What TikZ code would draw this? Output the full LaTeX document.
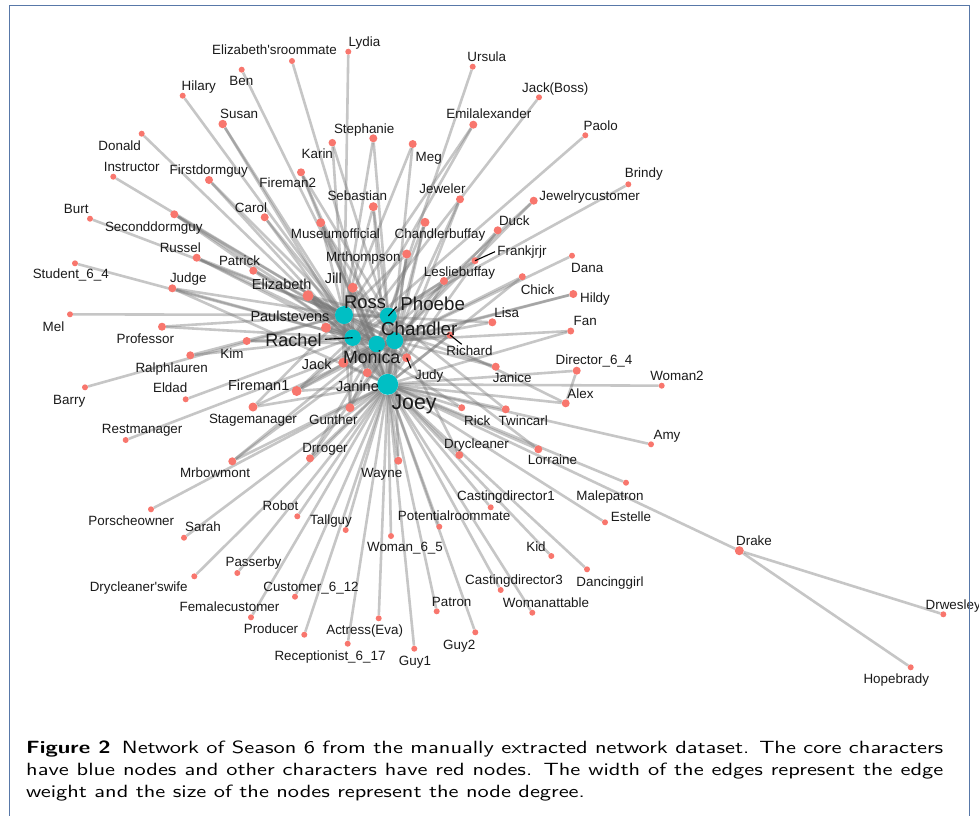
\documentclass[tikz,border=0pt]{standalone}
\usepackage{fontspec}
\usepackage{graphicx}
\newfontfamily\labfont{Liberation Sans}[Ligatures=TeXOff]
\newfontfamily\capsans{lmsans10-regular.otf}[BoldFont=lmsans10-bold.otf]
\definecolor{nodered}{RGB}{248,118,109}
\definecolor{corecol}{RGB}{0,191,196}
\definecolor{framecol}{RGB}{88,120,168}
\definecolor{labcol}{RGB}{26,26,26}
\definecolor{edgecol}{RGB}{120,120,120}
\pgfdeclarelayer{bg}
\pgfdeclarelayer{edgelayer}
\pgfsetlayers{bg,edgelayer,main}
\newlength\capw
\newsavebox\capbox
\newcommand\pn[7]{\node[rn=#4] (#1) at (#2,#3) {}; \node[lab] (l-#1) at (#5,#6) {#7};}
\newcommand\pnm[7]{\node[rn=#4] (#1) at (#2,#3) {}; \node[labm] (l-#1) at (#5,#6) {#7};}
\newcommand\capfont{\capsans\fontsize{17.7}{22.3}\selectfont}
\begin{document}
\settowidth\capw{\capfont\textbf{Figure 2}\hspace{0.5em}Network of Season 6 from the manually extracted network dataset. The core characters}%
\sbox\capbox{\parbox[t]{\capw}{\capfont\textbf{Figure 2}\hspace{0.5em}Network of Season 6 from the manually extracted network dataset. The core characters\linebreak have blue nodes and other characters have red nodes. The width of the edges represent the edge\linebreak weight and the size of the nodes represent the node degree.}}%
\begin{tikzpicture}[x=1pt,y=-1pt,
  rn/.style={circle,fill=nodered,inner sep=0pt,minimum size=#1},
  cn/.style={circle,fill=corecol,inner sep=0pt,minimum size=#1},
  lab/.style={font=\labfont\fontsize{13.4}{14}\selectfont,text=labcol,inner sep=0pt,text height=9.6pt,text depth=0pt},
  labm/.style={font=\labfont\fontsize{14.5}{15}\selectfont,text=labcol,inner sep=0pt,text height=10.4pt,text depth=0pt},
  edge/.style={draw=edgecol,draw opacity=0.42,line width=2.6pt},
  coreedge/.style={draw=edgecol,draw opacity=0.45,line width=3.6pt},
  leader/.style={draw=black,line width=1.1pt}]
\useasboundingbox (0,0) rectangle (979,815);
\begin{pgfonlayer}{bg}
\fill[white] (0,0) rectangle (979,815);
\end{pgfonlayer}
% core nodes
\node[cn=18] (ro) at (344,315) {};
\node[cn=17] (ph) at (388.3,316) {};
\node[cn=16.5] (ra) at (352.7,337.7) {};
\node[cn=16.5] (mo) at (376.7,344) {};
\node[cn=17] (ch) at (394.7,340.7) {};
\node[cn=21] (jo) at (387.7,384.3) {};
% peripheral nodes
\pn{ezr}{292}{61}{6}{274.5}{50}{Elizabeth'sroommate}
\pn{ben}{241.7}{69.7}{6}{241.3}{80.7}{Ben}
\pn{hil}{182.7}{95.7}{6}{198.8}{86}{Hilary}
\pn{sus}{222.7}{124}{8.5}{239.2}{113.7}{Susan}
\pn{don}{141.7}{133.7}{6}{119.7}{145.7}{Donald}
\pn{ins}{113.3}{176.7}{6}{131.7}{166.7}{Instructor}
\pn{fdg}{209}{180}{8}{208.8}{169.3}{Firstdormguy}
\pn{kar}{332.3}{142.7}{7.5}{317.3}{154}{Karin}
\pn{fm2}{301}{172.3}{8}{287.7}{183}{Fireman2}
\pn{car}{264.7}{217.3}{8}{251}{207.3}{Carol}
\pn{bur}{90}{218.7}{6}{76.2}{208.7}{Burt}
\pn{sdg}{174.3}{214.3}{8}{153.8}{226.7}{Seconddormguy}
\pn{muo}{320.7}{222.7}{9}{335.4}{233.3}{Museumofficial}
\pn{rus}{196.7}{257.7}{8}{180.3}{247.3}{Russel}
\pn{pat}{253.3}{270.7}{8}{239.5}{261}{Patrick}
\pn{stu}{75}{263.3}{6}{70.8}{273.7}{Student\_6\_4}
\pn{jdg}{172.3}{288.3}{8}{188.3}{277.3}{Judge}
\pnm{eli}{308}{295.7}{11}{281.7}{284.3}{Elizabeth}
\pn{mel}{70}{314.3}{6}{53.5}{326.7}{Mel}
\pnm{pau}{326}{327.7}{10}{290}{316.7}{Paulstevens}
\pn{pro}{162}{326.7}{8}{145.3}{338.3}{Professor}
\pn{kim}{246.7}{341}{8}{232}{353.3}{Kim}
\pn{ral}{190.3}{355.3}{8}{171.7}{367.3}{Ralphlauren}
\pn{bar}{85}{387.3}{6}{69.2}{399.3}{Barry}
\pn{eld}{185.7}{399.3}{6}{170.2}{388}{Eldad}
\pnm{fm1}{296.7}{391}{10}{258.7}{385}{Fireman1}
\pn{stg}{253}{407}{9}{253}{418.3}{Stagemanager}
\pn{rst}{125.7}{440}{6}{142.2}{428.3}{Restmanager}
\pn{mrb}{232.3}{461.3}{8}{215}{472.3}{Mrbowmont}
\pn{drr}{310}{458.3}{8}{325}{447.7}{Drroger}
\pn{por}{151}{509.3}{6}{131.3}{520.7}{Porscheowner}
\pn{sar}{184}{537.7}{6}{203}{526.3}{Sarah}
\pn{dcw}{194.3}{576.3}{6}{138.7}{586.3}{Drycleaner'swife}
\pn{rob}{297.3}{516.3}{6}{280.5}{505.3}{Robot}
\pn{pas}{237.3}{573}{6}{253.5}{561.7}{Passerby}
\pn{fcu}{251}{617.3}{6}{229.5}{606.3}{Femalecustomer}
\pn{cus}{295}{596.7}{6}{311}{587}{Customer\_6\_12}
\pn{prd}{304.3}{634.7}{6}{271}{628.3}{Producer}
\pn{tal}{345.7}{530}{6}{331}{519.3}{Tallguy}
\pn{rec}{347.7}{643.7}{6}{330}{656}{Receptionist\_6\_17}
\pn{act}{378.7}{618.3}{6}{364.7}{630}{Actress(Eva)}
\pn{w65}{391}{536}{6}{405}{546.7}{Woman\_6\_5}
\pn{gua}{414.3}{648.7}{6}{415}{660.7}{Guy1}
\pn{ptr}{436.7}{611.3}{6}{451.7}{601.7}{Patron}
\pn{gub}{475.3}{632.3}{6}{459.2}{644.3}{Guy2}
\pn{prm}{439.3}{526.7}{6}{454.2}{515.3}{Potentialroommate}
\pn{cdc}{500.7}{590}{6}{514}{579.3}{Castingdirector3}
\pn{wat}{532.3}{612.7}{6}{546}{602.3}{Womanattable}
\pn{cda}{490.7}{507.3}{6}{506}{495.7}{Castingdirector1}
\pn{kid}{551.3}{556}{6}{536}{546.7}{Kid}
\pn{dgl}{587}{569.3}{6}{610}{581.7}{Dancinggirl}
\pn{est}{605}{522.3}{6}{631}{516.7}{Estelle}
\pn{mpt}{626}{482.7}{6}{610}{495.7}{Malepatron}
\pn{drk}{739.3}{550.7}{9}{754}{540.7}{Drake}
\pn{drw}{943.3}{614.3}{6}{953.2}{604.3}{Drwesley}
\pn{hop}{910.7}{667.3}{6}{896.3}{678.7}{Hopebrady}
\pn{way}{398.3}{460.7}{8}{381.7}{473}{Wayne}
\pn{gun}{350}{407.7}{9}{333.3}{420}{Gunther}
\pn{dcl}{459.3}{455}{8}{476.5}{443.3}{Drycleaner}
\pn{lor}{538.3}{449.3}{8}{552.5}{460}{Lorraine}
\pn{rck}{461.7}{407.7}{7}{477.2}{420.7}{Rick}
\pn{twc}{505.7}{409.3}{8}{523.3}{420.7}{Twincarl}
\pn{amy}{651}{444.3}{6}{667}{434.3}{Amy}
\pn{alx}{565.7}{403.3}{8}{580.5}{394}{Alex}
\pn{dsf}{576.7}{370.7}{8}{594}{360}{Director\_6\_4}
\pn{wmb}{661.7}{385.7}{6}{677}{376}{Woman2}
\pn{jan}{495.7}{366.7}{8}{512.2}{378}{Janice}
\pn{jud}{406.7}{357.7}{9}{429.2}{374.3}{Judy}
\pn{ric}{450}{335}{7}{469.5}{351}{Richard}
\pn{fan}{570.7}{331}{7}{585.2}{320.7}{Fan}
\pn{lis}{492.3}{322.3}{8}{506.7}{312.3}{Lisa}
\pn{hdy}{573.3}{294}{8}{595}{297.7}{Hildy}
\pn{chk}{522.3}{276.7}{7}{537.5}{289.3}{Chick}
\pn{dan}{572}{255.7}{6}{587.2}{267.3}{Dana}
\pn{les}{444}{281}{8}{459.5}{271.7}{Lesliebuffay}
\pn{frk}{475}{260.7}{7}{522}{250.3}{Frankjrjr}
\pn{duk}{497.7}{230.3}{8}{514.3}{220.3}{Duck}
\pn{jwc}{533.7}{200.7}{8}{589.7}{195.3}{Jewelrycustomer}
\pn{brd}{628.3}{184.3}{6}{643.8}{172.7}{Brindy}
\pn{jwl}{460}{199.3}{8}{442.5}{188.7}{Jeweler}
\pn{cbf}{425}{222.3}{9}{440}{233.3}{Chandlerbuffay}
\pn{emi}{473.3}{124.7}{8}{488.8}{113.7}{Emilalexander}
\pn{urs}{472.7}{66.7}{6}{486.8}{56.7}{Ursula}
\pn{jbo}{539}{97.3}{6}{555.3}{87.7}{Jack(Boss)}
\pn{pao}{585.3}{135.3}{6}{600.7}{125.7}{Paolo}
\pn{meg}{412.7}{144}{8}{428.7}{156.7}{Meg}
\pn{ste}{373.3}{138.3}{8}{364.2}{128.7}{Stephanie}
\pn{lyd}{348.3}{51.7}{6}{364.5}{41.7}{Lydia}
\pn{seb}{373.3}{206.7}{9}{357.3}{195.3}{Sebastian}
\pn{mrt}{406.7}{254}{9}{363.3}{256.3}{Mrthompson}
\pnm{jil}{352.7}{287.7}{10}{333.3}{278.3}{Jill}
\pnm{jak}{343.3}{362.7}{10}{316.7}{364.3}{Jack}
\pnm{jnn}{367.3}{372.7}{9}{357.5}{386}{Janine}
% core labels
\node[font=\labfont\fontsize{18.4}{19}\selectfont,text=labcol,inner sep=0pt,text height=13.2pt,text depth=0pt] (l-ro) at (365,302.3) {Ross};
\node[font=\labfont\fontsize{18.7}{19}\selectfont,text=labcol,inner sep=0pt,text height=13.4pt,text depth=0pt] (l-ph) at (432.7,303.3) {Phoebe};
\node[font=\labfont\fontsize{18.8}{19}\selectfont,text=labcol,inner sep=0pt,text height=13.5pt,text depth=0pt] (l-ch) at (419.3,329) {Chandler};
\node[font=\labfont\fontsize{18}{19}\selectfont,text=labcol,inner sep=0pt,text height=12.9pt,text depth=0pt] (l-ra) at (293.5,340) {Rachel};
\node[font=\labfont\fontsize{17.8}{19}\selectfont,text=labcol,inner sep=0pt,text height=12.7pt,text depth=0pt] (l-mo) at (371.7,357.3) {Monica};
\node[font=\labfont\fontsize{21.3}{22}\selectfont,text=labcol,inner sep=0pt,text height=15.2pt,text depth=0pt] (l-jo) at (414,402.3) {Joey};
% edges
\begin{pgfonlayer}{edgelayer}
\foreach \a/\b in {ro/ph,ro/ra,ro/mo,ro/ch,ro/jo,ph/ra,ph/mo,ph/ch,ph/jo,ra/mo,ra/ch,ra/jo,mo/ch,mo/jo,ch/jo}
  \draw[coreedge] (\a) -- (\b);
\foreach \a/\b in {ezr/mo,ben/mo,hil/ro,sus/ro,sus/ra,don/ra,ins/ro,fdg/ro,fdg/ra,kar/ro,kar/ch,fm2/ph,fm2/mo,fm2/jo,car/ro,car/ra,bur/ro,sdg/ro,sdg/ra,sdg/mo,muo/ro,muo/jo,muo/ch,rus/ro,rus/ra,rus/mo,pat/ro,pat/ra,stu/ra,jdg/ro,jdg/ra,jdg/jo,eli/ro,eli/ra,eli/ph,eli/jo,eli/mo,eli/ch,mel/ro,pau/ro,pau/ra,pau/mo,pau/jo,pau/ch,pro/ro,pro/ra,kim/ra,kim/mo,ral/ra,ral/ro,bar/ro,eld/ra,fm1/ph,fm1/mo,fm1/ch,fm1/jo,fm1/ra,stg/jo,stg/ro,stg/ch,rst/mo,mrb/jo,mrb/ch,mrb/mo,drr/jo,drr/mo,drr/ch,por/jo,sar/jo,dcw/jo,rob/jo,pas/jo,fcu/jo,cus/jo,prd/jo,tal/jo,rec/jo,act/jo,w65/jo,gua/jo,ptr/jo,gub/jo,prm/jo,cdc/jo,wat/jo,cda/jo,kid/jo,dgl/jo,est/jo,mpt/jo,drk/jo,drk/drw,drk/hop,way/jo,way/ch,gun/jo,gun/ra,gun/mo,gun/ro,gun/ch,dcl/jo,dcl/ph,lor/jo,lor/ch,rck/jo,rck/ra,twc/jo,twc/ph,amy/jo,alx/jo,alx/ph,alx/dsf,dsf/jo,wmb/jo,jan/ch,jan/ro,jud/mo,jud/ro,jud/ra,jud/ch,ric/mo,ric/ch,ric/jo,fan/ch,fan/jo,lis/ch,lis/ro,hdy/ch,hdy/mo,chk/jo,chk/ch,dan/ch,les/ph,les/ch,les/jo,frk/ph,duk/jo,duk/ch,jwc/mo,jwc/ch,brd/ph,jwl/jo,jwl/ch,cbf/mo,cbf/ch,cbf/jo,emi/ro,emi/ra,urs/ph,jbo/ra,pao/ra,meg/ro,meg/jo,ste/ro,ste/ph,lyd/ro,seb/ro,seb/ph,seb/jo,mrt/jo,mrt/ro,mrt/ch,jil/ra,jil/ro,jil/ph,jil/jo,jil/mo,jil/ch,jak/ra,jak/ro,jak/mo,jak/jo,jak/ch,jnn/jo,jnn/mo,jnn/ra,jnn/ch,jnn/ro}
  \draw[edge] (\a) -- (\b);
\end{pgfonlayer}
% leader lines
\coordinate (q-ra) at (325,339.3);
\coordinate (q-ph) at (396.7,306.7);
\coordinate (q-jud) at (411,368.3);
\coordinate (q-ric) at (461.7,344.3);
\coordinate (q-frk) at (495,251.7);
\draw[leader] (q-ra) -- (ra.center);
\draw[leader] (ph.center) -- (q-ph);
\draw[leader] (jud.center) -- (q-jud);
\draw[leader] (ric.center) -- (q-ric);
\draw[leader] (frk.center) -- (q-frk);
% caption
\node[anchor=base west,inner sep=0pt] (caption) at (26,753) {\resizebox{917pt}{\height}{\usebox\capbox}};
% frame
\draw[framecol,line width=1.2pt] (9.5,5.7) rectangle (969.3,840);
\end{tikzpicture}
\end{document}
